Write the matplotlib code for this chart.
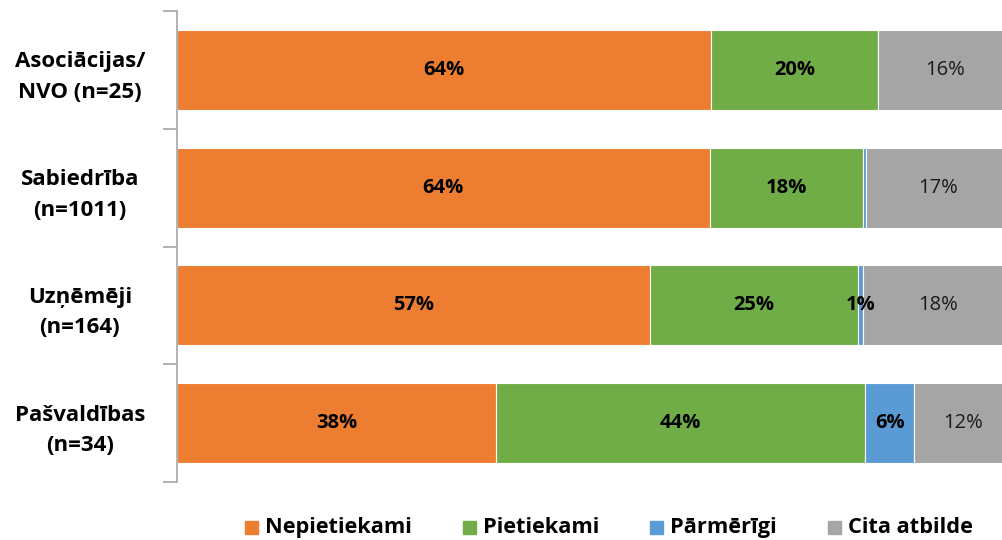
import matplotlib.pyplot as plt
import numpy as np
from matplotlib.patches import Rectangle

# Data (percent), top to bottom
categories = ["Asociācijas/\nNVO (n=25)", "Sabiedrība\n(n=1011)", "Uzņēmēji\n(n=164)", "Pašvaldības\n(n=34)"]
series_names = ["Nepietiekami", "Pietiekami", "Pārmērīgi", "Cita atbilde"]
nepietiekami = [64.0, 63.8, 56.6, 38.2]
pietiekami = [20.0, 18.3, 25.0, 44.2]
parmerigi = [0.0, 0.4, 0.6, 5.9]
cita = [16.0, 17.2, 17.8, 11.7]

colors = ["#ED7D31", "#70AD47", "#5B9BD5", "#A5A5A5"]
plt.rcParams["font.family"] = ["Open Sans", "DejaVu Sans"]

fig = plt.figure(figsize=(10.03, 5.40), dpi=100)
W, H = 1003, 540
ax = fig.add_axes([177 / W, (H - 482) / H, 835 / W, 471 / H])

y = np.arange(len(categories))
left = np.zeros(len(categories))
for name, values, color in zip(series_names, [nepietiekami, pietiekami, parmerigi, cita], colors):
    values = np.array(values)
    ax.barh(y, values, left=left, height=0.68, color=color, edgecolor="white", linewidth=0.8, label=name)
    for yi, v, l in zip(y, values, left):
        if v < 0.5:
            continue
        if name == "Cita atbilde":
            ax.text(l + v / 2, yi, f"{v:.0f}%", ha="center", va="center", fontsize=14.5, color="#1a1a1a")
        else:
            ax.text(l + v / 2, yi, f"{v:.0f}%", ha="center", va="center", fontsize=14.5,
                    fontweight="bold", color="black")
    left += values

ax.set_xlim(0, 100)
ax.set_ylim(len(categories) - 0.5, -0.5)
ax.set_xticks([])
ax.set_yticks(y)
ax.set_yticklabels(categories, fontsize=16, fontweight="bold", multialignment="center", ha="center",
                   linespacing=1.6)
ax.tick_params(axis="y", which="major", length=0, pad=70)
ax.set_yticks(np.arange(-0.5, len(categories)), minor=True)
ax.tick_params(axis="y", which="minor", length=10, width=1.2, color="#A6A6A6")
for side in ["top", "right", "bottom"]:
    ax.spines[side].set_visible(False)
ax.spines["left"].set_color("#A6A6A6")
ax.spines["left"].set_linewidth(1.2)

# legend drawn by hand so all labels share one baseline
renderer = fig.canvas.get_renderer()
x_px = 245
for name, color in zip(series_names, colors):
    fig.patches.append(Rectangle((x_px / W, (H - 534) / H), 13 / W, 13 / H, color=color,
                                 transform=fig.transFigure, figure=fig))
    t = fig.text((x_px + 20) / W, (H - 533) / H, name, fontsize=15.7, fontweight="bold",
                 va="baseline", ha="left")
    x_px += 20 + t.get_window_extent(renderer).width + 51

fig.savefig("out.png", dpi=100)
